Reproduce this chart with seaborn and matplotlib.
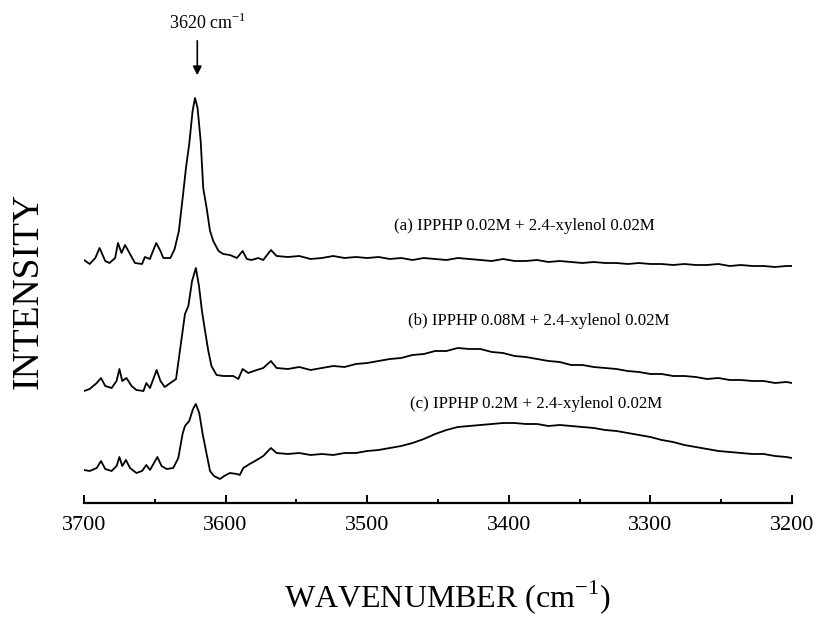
import numpy as np
import pandas as pd
import matplotlib
matplotlib.use('Agg')
import matplotlib.pyplot as plt
import seaborn as sns

# === data: IR spectra (arbitrary intensity, traces already offset) ===
wn_a = [3700, 3696, 3692, 3689, 3685, 3682, 3678, 3676, 3673.5, 3671, 3667.5, 3664, 3659, 3657,
        3653.5, 3649, 3646, 3644, 3639, 3636, 3633, 3630, 3628, 3625.7, 3623.3, 3621.6, 3619.8,
        3617.6, 3615.8, 3613.4, 3611, 3608.7, 3605, 3601.6, 3597, 3592, 3588, 3585, 3581.6, 3577,
        3573.4, 3568, 3564,
        3556, 3548, 3540, 3532, 3524, 3516, 3508, 3500, 3492, 3484, 3476, 3468, 3460, 3452, 3444,
        3436, 3428, 3420, 3412, 3404, 3396, 3388, 3380, 3372, 3364, 3356, 3348, 3340, 3332, 3324,
        3316, 3308, 3300, 3292, 3284, 3276, 3268, 3260, 3252, 3244, 3236, 3228, 3220, 3212, 3204, 3200]
int_a = [243, 239, 245, 255, 242, 240, 245, 260, 250, 258, 249, 240, 239, 246,
         244, 260, 252, 245, 245, 254, 272, 309, 335, 359, 392, 405, 395,
         362, 315, 295, 272, 262, 252, 249, 248, 245, 252, 244, 243, 245,
         243, 253, 247,
         246, 247, 244, 245, 247, 245, 246, 245, 246, 244, 245, 243, 245, 244, 243,
         245, 244, 243, 242, 244, 242, 242, 243, 241, 242, 241, 240, 241, 240, 240,
         239, 240, 239, 239, 238, 239, 238, 238, 239, 237, 238, 237, 237, 236, 237, 237]

wn_b = [3700, 3696, 3691, 3688, 3685, 3680.5, 3677, 3675, 3673, 3670, 3666.4, 3663, 3658, 3656,
        3653.4, 3648.7, 3646, 3643, 3639, 3635, 3632, 3628.7, 3626.3, 3623.7, 3621, 3618.8,
        3616.7, 3614.5, 3612.2, 3610, 3606.4, 3601.6, 3594.6, 3591, 3588, 3584, 3578, 3573.4,
        3568, 3564,
        3556, 3548, 3540, 3532, 3524, 3516, 3508, 3500, 3492, 3484, 3476, 3468, 3460, 3452, 3444,
        3436, 3428, 3420, 3412, 3404, 3396, 3388, 3380, 3372, 3364, 3356, 3348, 3340, 3332, 3324,
        3316, 3308, 3300, 3292, 3284, 3276, 3268, 3260, 3252, 3244, 3236, 3228, 3220, 3212, 3204, 3200]
int_b = [112, 114, 120, 125, 117, 115, 122, 134, 122, 125, 117, 113, 112, 120,
         115, 133, 122, 116, 120, 124, 155, 189, 197, 222, 235, 217,
         192, 172, 152, 137, 128, 127, 127, 124, 134, 130, 133, 135,
         142, 135,
         134, 136, 133, 135, 137, 136, 139, 140, 142, 144, 145, 148, 149, 152, 152,
         155, 154, 154, 151, 150, 147, 146, 144, 142, 141, 138, 138, 136, 135, 134,
         132, 131, 129, 129, 127, 127, 126, 124, 125, 123, 123, 122, 122, 120, 121, 120]

wn_c = [3700, 3696, 3691, 3688, 3685, 3680.5, 3677, 3675, 3673, 3670.4, 3667.5, 3663, 3659, 3656,
        3653.4, 3648.2, 3645.2, 3641.7, 3637, 3633.4, 3630.4, 3628.7, 3625.7, 3623, 3621, 3618.6,
        3616.2, 3613.4, 3611, 3608.2, 3604, 3601, 3597, 3592, 3590, 3587.5, 3583, 3578, 3573.4,
        3568, 3564,
        3556, 3548, 3540, 3532, 3524, 3516, 3508, 3500, 3492, 3484, 3476, 3468, 3460, 3452, 3444,
        3436, 3428, 3420, 3412, 3404, 3396, 3388, 3380, 3372, 3364, 3356, 3348, 3340, 3332, 3324,
        3316, 3308, 3300, 3292, 3284, 3276, 3268, 3260, 3252, 3244, 3236, 3228, 3220, 3212, 3204, 3200]
int_c = [33, 32, 35, 42, 34, 32, 37, 46, 37, 43, 35, 30, 32, 38,
         33, 46, 37, 34, 35, 45, 69, 77, 82, 94, 99, 90,
         69, 49, 32, 27, 24, 27, 30, 29, 28, 35, 39, 43, 47,
         55, 50,
         49, 50, 48, 49, 48, 50, 50, 52, 53, 55, 57, 60, 64, 69, 73,
         76, 77, 78, 79, 80, 80, 79, 79, 77, 78, 77, 76, 75, 73, 72,
         70, 68, 66, 63, 61, 58, 56, 54, 52, 51, 50, 49, 49, 47, 46, 45]

labels = ['(a) IPPHP 0.02M + 2.4-xylenol 0.02M',
          '(b) IPPHP 0.08M + 2.4-xylenol 0.02M',
          '(c) IPPHP 0.2M + 2.4-xylenol 0.02M']
label_pos = [(3389, 277), (3379, 182), (3381, 99)]
peak_wn = 3620

df = pd.concat([
    pd.DataFrame({'wavenumber': wn_a, 'intensity': int_a, 'trace': 'a'}),
    pd.DataFrame({'wavenumber': wn_b, 'intensity': int_b, 'trace': 'b'}),
    pd.DataFrame({'wavenumber': wn_c, 'intensity': int_c, 'trace': 'c'}),
])

# === style ===
sns.set_theme(style='white')
plt.rcParams['font.family'] = ['Liberation Serif', 'DejaVu Serif']
plt.rcParams['mathtext.fontset'] = 'custom'
plt.rcParams['mathtext.rm'] = 'Liberation Serif'
plt.rcParams['text.color'] = 'black'
plt.rcParams['axes.labelcolor'] = 'black'
plt.rcParams['xtick.color'] = 'black'

fig = plt.figure(figsize=(8.17, 6.18), dpi=100)
ax = fig.add_axes([84 / 817, 115 / 618, 708 / 817, 493 / 618])

sns.lineplot(data=df, x='wavenumber', y='intensity', hue='trace', units='trace',
             estimator=None, palette=['black'] * 3, linewidth=1.3, legend=False, ax=ax)

ax.set_xlim(3700, 3200)
ax.set_ylim(0, 493)

for s in ['left', 'top', 'right']:
    ax.spines[s].set_visible(False)
ax.spines['bottom'].set_linewidth(1.6)
ax.spines['bottom'].set_color('black')

ax.set_xticks([3700, 3600, 3500, 3400, 3300, 3200])
ax.set_xticks(np.arange(3650, 3200, -100), minor=True)
ax.set_yticks([])
ax.tick_params(axis='x', which='major', direction='in', length=6, width=1.4,
               labelsize=16, pad=9, colors='black', bottom=True)
ax.tick_params(axis='x', which='minor', direction='in', length=3, width=1.4, bottom=True)

# x label placed by hand to match the original layout
ax.set_xlabel('WAVENUMBER (cm$^{\\mathrm{-1}}$)', fontsize=23)
ax.xaxis.set_label_coords(0.514, -0.152)
ax.set_ylabel('INTENSITY', fontsize=27)
ax.yaxis.set_label_coords(-0.054, 0.43)

for txt, (x, y) in zip(labels, label_pos):
    ax.text(x, y, txt, fontsize=12.2, ha='center', va='center')

ax.annotate('', xy=(peak_wn, 425), xytext=(peak_wn, 465),
            arrowprops=dict(arrowstyle='-|>', color='black', lw=1.2, mutation_scale=13))
ax.text(3613, 480, '3620 cm$^{\\mathrm{-1}}$', fontsize=13, ha='center', va='center')

plt.savefig('out.png', dpi=100)
